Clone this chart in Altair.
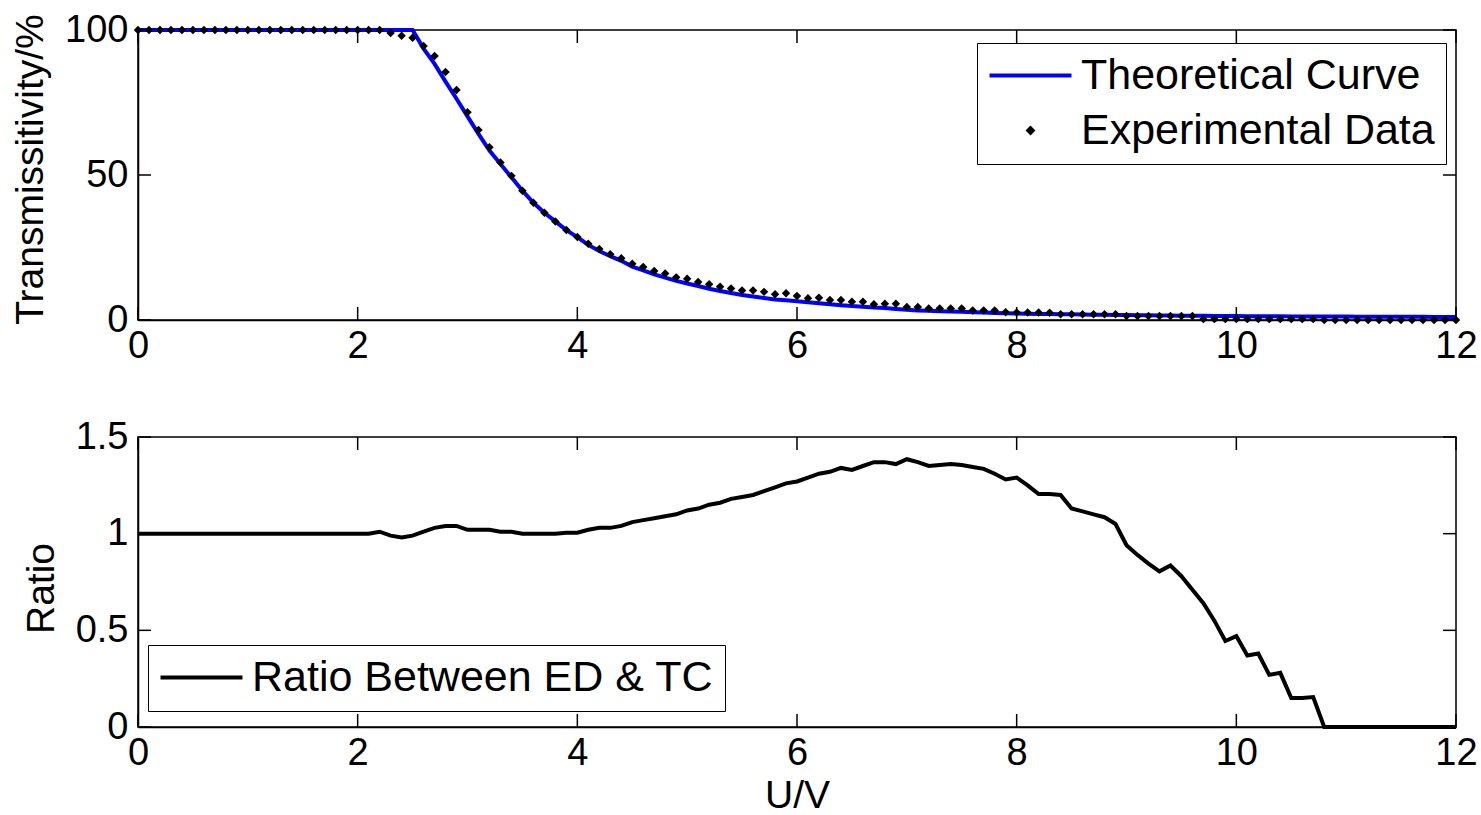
import altair as alt
import pandas as pd

# ---------------- data ----------------
U = [0.0, 0.1, 0.2, 0.3, 0.4, 0.5, 0.6, 0.7, 0.8, 0.9,
     1.0, 1.1, 1.2, 1.3, 1.4, 1.5, 1.6, 1.7, 1.8, 1.9,
     2.0, 2.1, 2.2, 2.3, 2.4, 2.5, 2.6, 2.7, 2.8, 2.9,
     3.0, 3.1, 3.2, 3.3, 3.4, 3.5, 3.6, 3.7, 3.8, 3.9,
     4.0, 4.1, 4.2, 4.3, 4.4, 4.5, 4.6, 4.7, 4.8, 4.9,
     5.0, 5.1, 5.2, 5.3, 5.4, 5.5, 5.6, 5.7, 5.8, 5.9,
     6.0, 6.1, 6.2, 6.3, 6.4, 6.5, 6.6, 6.7, 6.8, 6.9,
     7.0, 7.1, 7.2, 7.3, 7.4, 7.5, 7.6, 7.7, 7.8, 7.9,
     8.0, 8.1, 8.2, 8.3, 8.4, 8.5, 8.6, 8.7, 8.8, 8.9,
     9.0, 9.1, 9.2, 9.3, 9.4, 9.5, 9.6, 9.7, 9.8, 9.9,
     10.0, 10.1, 10.2, 10.3, 10.4, 10.5, 10.6, 10.7, 10.8, 10.9,
     11.0, 11.1, 11.2, 11.3, 11.4, 11.5, 11.6, 11.7, 11.8, 11.9,
     12.0]

# Theoretical curve (%)
THEORY = [100, 100, 100, 100, 100, 100, 100, 100, 100, 100,
          100, 100, 100, 100, 100, 100, 100, 100, 100, 100,
          100, 100, 100, 100, 100, 100, 93.6, 88.3, 82.2, 76.3,
          70.2, 64.2, 58.4, 53.8, 49.2, 44.6, 40.4, 37.0, 34.0, 31.0,
          28.6, 25.9, 23.8, 22.0, 20.4, 18.4, 17.1, 15.7, 14.6, 13.5,
          12.6, 11.7, 10.8, 10.0, 9.3, 8.6, 8.1, 7.6, 7.1, 6.8,
          6.5, 6.1, 5.8, 5.4, 5.1, 4.8, 4.6, 4.3, 4.1, 3.8,
          3.5, 3.3, 3.15, 3.05, 2.95, 2.85, 2.7, 2.55, 2.45, 2.35,
          2.25, 2.15, 2.1, 2.05, 2.0, 1.95, 1.9, 1.85, 1.8, 1.75,
          1.7, 1.65, 1.6, 1.57, 1.54, 1.5, 1.47, 1.44, 1.41, 1.38,
          1.35, 1.33, 1.31, 1.29, 1.27, 1.25, 1.23, 1.21, 1.2, 1.18,
          1.17, 1.15, 1.14, 1.12, 1.11, 1.1, 1.09, 1.08, 1.07, 1.06,
          1.05]

# Experimental data (%)
EXPER = [100, 100, 100, 100, 100, 100, 100, 100, 100, 100,
         100, 100, 100, 100, 100, 100, 100, 100, 100, 100,
         100, 100, 100, 99.0, 98.0, 97.3, 94.5, 91.0, 85.5, 79.3,
         71.6, 65.5, 59.6, 54.3, 49.7, 44.6, 40.4, 37.0, 34.0, 31.0,
         28.6, 26.3, 24.5, 22.7, 21.3, 19.4, 18.3, 16.9, 16.0, 14.7,
         14.2, 13.1, 12.3, 11.5, 10.9, 10.2, 10.2, 9.7, 8.9, 9.2,
         8.3, 7.5, 7.7, 6.9, 6.9, 6.3, 6.3, 5.4, 5.6, 5.6,
         4.5, 4.5, 4.0, 4.0, 4.0, 4.0, 3.3, 3.3, 3.3, 2.7,
         2.6, 2.6, 2.6, 2.5, 2.0, 2.0, 2.0, 2.0, 2.0, 2.0,
         1.4, 1.4, 1.4, 1.4, 1.4, 1.4, 1.4, 0.3, 0.3, 0.3,
         0.3, 0.3, 0.3, 0.3, 0.3, 0.3, 0.3, 0.3, 0, 0,
         0, 0, 0, 0, 0, 0, 0, 0, 0, 0,
         0]

# Ratio between ED and TC
RATIO = [1.0, 1.0, 1.0, 1.0, 1.0, 1.0, 1.0, 1.0, 1.0, 1.0,
         1.0, 1.0, 1.0, 1.0, 1.0, 1.0, 1.0, 1.0, 1.0, 1.0,
         1.0, 1.0, 1.01, 0.99, 0.98, 0.99, 1.01, 1.03, 1.04, 1.04,
         1.02, 1.02, 1.02, 1.01, 1.01, 1.0, 1.0, 1.0, 1.0, 1.005,
         1.005, 1.02, 1.03, 1.03, 1.04, 1.06, 1.07, 1.08, 1.09, 1.10,
         1.12, 1.13, 1.15, 1.16, 1.18, 1.19, 1.20, 1.22, 1.24, 1.26,
         1.27, 1.29, 1.31, 1.32, 1.34, 1.33, 1.35, 1.37, 1.37, 1.36,
         1.385, 1.37, 1.35, 1.355, 1.36, 1.355, 1.345, 1.335, 1.31, 1.28,
         1.29, 1.25, 1.205, 1.205, 1.20, 1.13, 1.115, 1.10, 1.085, 1.05,
         0.94, 0.89, 0.845, 0.805, 0.835, 0.78, 0.71, 0.64, 0.55, 0.445,
         0.47, 0.37, 0.38, 0.27, 0.28, 0.15, 0.15, 0.155, 0.0, 0.0,
         0, 0, 0, 0, 0, 0, 0, 0, 0, 0,
         0]

X_TICKS = [0, 2, 4, 6, 8, 10, 12]
Y_TICKS_TOP = [0, 50, 100]
Y_TICKS_BOT = [0, 0.5, 1, 1.5]

TC = "Theoretical Curve"
ED = "Experimental Data"
RL = "Ratio Between ED & TC"

assert len(U) == len(THEORY) == len(EXPER) == len(RATIO) == 121

# ---------------- chart ----------------
FONT = "Liberation Sans"
FS = 38          # tick labels
FS_T = 39        # axis titles
FS_L = 43        # legend labels
W, H = 1318, 290
TL = 13          # inward tick length
LINE_SYM = "M-4,0H4"   # horizontal legend line, 4x longer than its nominal size
LINE_SIZE = 420        # ~82 px long
SYM_OFF = 21
LAB_OFF = 29

df = pd.DataFrame({"U": U, "T": THEORY, "E": EXPER, "R": RATIO})
df["series"] = ED
df["rser"] = RL

xscale = alt.Scale(domain=[0, 12], nice=False, zero=False)
yscale_top = alt.Scale(domain=[0, 100], nice=False)
yscale_bot = alt.Scale(domain=[0, 1.5], nice=False)


def xaxis(title=None):
    kw = dict(values=X_TICKS, tickSize=0, labelPadding=7, grid=False,
              labelFontSize=FS, labelFont=FONT, labelColor="black",
              domainColor="black", domainWidth=1.5, labelFlush=False)
    if title:
        kw.update(title=title, titleFontSize=FS_T, titleFont=FONT,
                  titleFontWeight="normal", titleColor="black",
                  titleY=68, titleBaseline="middle")
    else:
        kw.update(title=None)
    return alt.Axis(**kw)


def yaxis(values, title, tx, ty, fmt):
    return alt.Axis(values=values, tickSize=0, labelPadding=10, grid=False,
                    labelFontSize=FS, labelFont=FONT, labelColor="black",
                    domainColor="black", domainWidth=1.5, format=fmt,
                    labelFlush=False,
                    title=title, titleFontSize=FS_T, titleFont=FONT,
                    titleFontWeight="normal", titleColor="black",
                    titleX=tx, titleY=ty, titleAngle=270,
                    titleAlign="center", titleBaseline="middle")


def tick_layers(yscale, yticks, xax, yax):
    xt = pd.DataFrame({"v": X_TICKS})
    yt = pd.DataFrame({"v": yticks})
    bx = alt.Chart(xt).mark_rule(color="black", strokeWidth=1.5).encode(
        x=alt.X("v:Q", scale=xscale, axis=xax), y=alt.value(H), y2=alt.value(H - TL))
    tx = alt.Chart(xt).mark_rule(color="black", strokeWidth=1.5).encode(
        x=alt.X("v:Q", scale=xscale, axis=xax), y=alt.value(0), y2=alt.value(TL))
    ly = alt.Chart(yt).mark_rule(color="black", strokeWidth=1.5).encode(
        y=alt.Y("v:Q", scale=yscale, axis=yax), x=alt.value(0), x2=alt.value(TL))
    ry = alt.Chart(yt).mark_rule(color="black", strokeWidth=1.5).encode(
        y=alt.Y("v:Q", scale=yscale, axis=yax), x=alt.value(W), x2=alt.value(W - TL))
    return [bx, tx, ly, ry]


# ---- top panel ----
xa_top = xaxis()
ya_top = yaxis(Y_TICKS_TOP, "Transmissitivity/%", -108, 139, "d")

leg_top = alt.Legend(title=None, orient="none", legendX=839, legendY=13,
                     labelFont=FONT, labelFontSize=FS_L, labelColor="black",
                     symbolOffset=SYM_OFF, labelOffset=LAB_OFF, symbolStrokeWidth=4,
                     strokeColor="black", fillColor="white",
                     padding=11, rowPadding=11, labelLimit=700)

theory = alt.Chart(df).mark_line(color="#0000ff", strokeWidth=4).encode(
    x=alt.X("U:Q", scale=xscale, axis=xa_top),
    y=alt.Y("T:Q", scale=yscale_top, axis=ya_top),
)
points = alt.Chart(df).mark_point(filled=False, strokeWidth=3, opacity=1).encode(
    x=alt.X("U:Q", scale=xscale, axis=xa_top),
    y=alt.Y("E:Q", scale=yscale_top, axis=ya_top),
    color=alt.Color("series:N", scale=alt.Scale(domain=[TC, ED], range=["#0000ff", "black"]),
                    legend=leg_top),
    shape=alt.Shape("series:N", scale=alt.Scale(domain=[TC, ED], range=[LINE_SYM, "diamond"]),
                    legend=leg_top),
    size=alt.Size("series:N", scale=alt.Scale(domain=[TC, ED], range=[LINE_SIZE, 18]),
                  legend=leg_top),
)

top = alt.layer(theory, points, *tick_layers(yscale_top, Y_TICKS_TOP, xa_top, ya_top)).properties(
    width=W, height=H)

# ---- bottom panel ----
xa_bot = xaxis("U/V")
ya_bot = yaxis(Y_TICKS_BOT, "Ratio", -97, 151, "~g")

leg_bot = alt.Legend(title=None, orient="none", legendX=10, legendY=208,
                     labelFont=FONT, labelFontSize=FS_L, labelColor="black",
                     symbolType=LINE_SYM, symbolSize=LINE_SIZE,
                     symbolOffset=SYM_OFF, labelOffset=LAB_OFF,
                     symbolStrokeWidth=4, strokeColor="black", fillColor="white",
                     padding=11, labelLimit=800)

ratio = alt.Chart(df).mark_line(strokeWidth=4).encode(
    x=alt.X("U:Q", scale=xscale, axis=xa_bot),
    y=alt.Y("R:Q", scale=yscale_bot, axis=ya_bot),
    color=alt.Color("rser:N", scale=alt.Scale(domain=[RL], range=["black"]), legend=leg_bot),
)

bottom = alt.layer(ratio, *tick_layers(yscale_bot, Y_TICKS_BOT, xa_bot, ya_bot)).properties(
    width=W, height=H)

chart = alt.vconcat(top, bottom, spacing=117, bounds="flush").resolve_scale(
    color="independent", shape="independent", size="independent"
).properties(
    padding={"left": 10, "top": 10, "right": 2, "bottom": 0},
    background="white",
).configure_view(
    stroke="black", strokeWidth=1.5
)

chart.save("out.html", embed_options={"renderer": "svg", "actions": False})
